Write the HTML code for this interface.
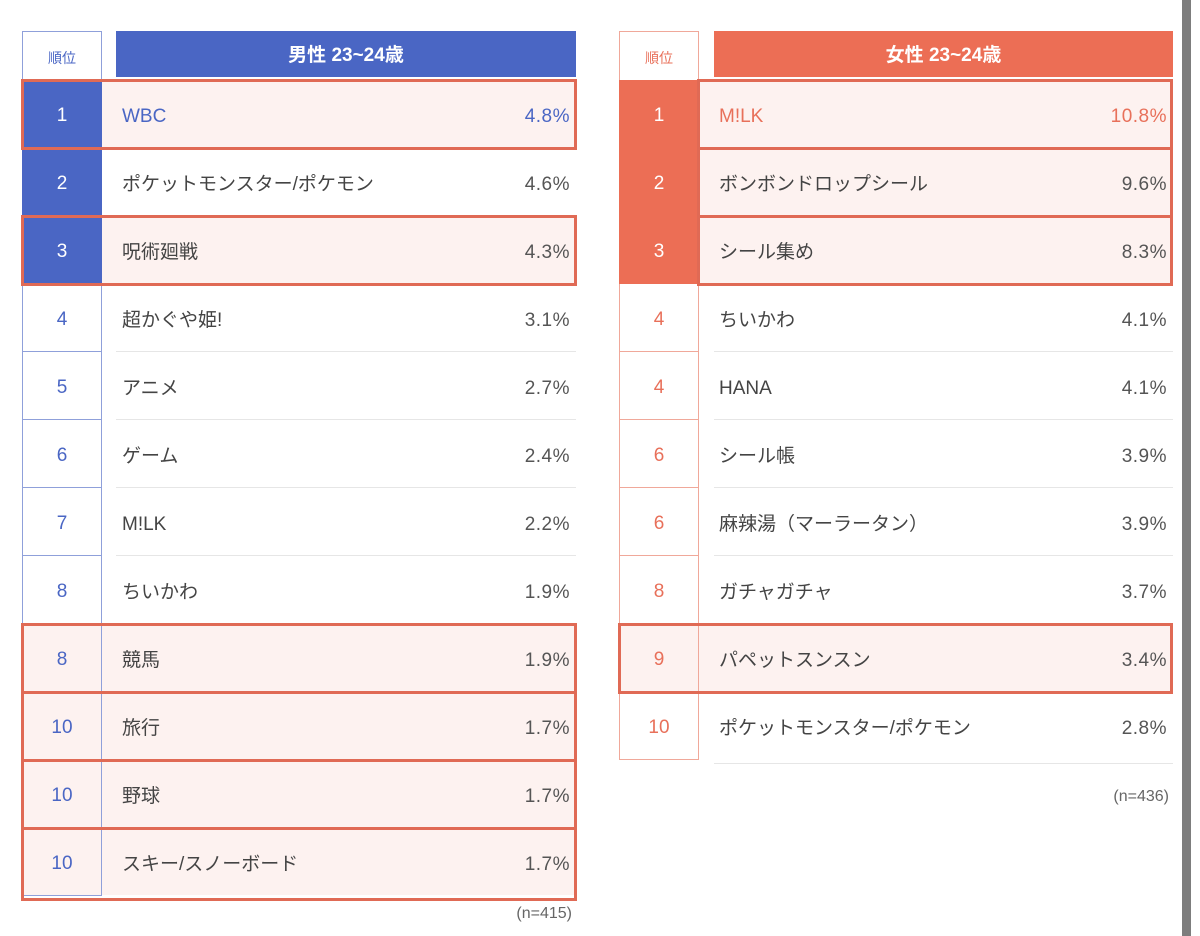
<!DOCTYPE html>
<html><head><meta charset="utf-8"><style>
body{margin:0;width:1200px;height:936px;background:#fff;position:relative;overflow:hidden;font-family:"Liberation Sans","Noto Sans CJK JP",sans-serif;}
div{position:absolute;box-sizing:border-box;}
.rk{width:80px;height:68px;display:flex;align-items:center;justify-content:center;font-size:19px;padding-top:5px;}
.b .rk{border-left:1px solid #8fa0da;border-right:1px solid #8fa0da;border-bottom:1px solid #8fa0da;color:#4a66c4;}
.o .rk{border-left:1px solid #f0a89a;border-right:1px solid #f0a89a;border-bottom:1px solid #f0a89a;color:#e8705a;}
.b .rk.f{background:#4a66c4;color:#fff;border-color:#4a66c4;}
.o .rk.f{background:#ec6e55;color:#fff;border-color:#ec6e55;}
.nm{height:68px;line-height:74px;font-size:19px;color:#444;}
.pc{height:68px;line-height:74px;font-size:19px;color:#555;text-align:right;letter-spacing:0.5px;}
.sep{height:1px;background:#e6e6e6;}
.hl{border:3px solid #e06a55;}
.hf{background:#fdf2f0;}
</style></head><body>
<div style="left:1182px;top:0;width:9px;height:936px;background:#7d7d7d"></div>

<!-- LEFT -->
<div class="b" style="left:0;top:0;width:600px;height:936px">
<div style="left:22px;top:31px;width:80px;height:49px;border:1px solid #8fa0da;border-bottom:none;color:#4a66c4;font-size:14px;text-align:center;line-height:52px">順位</div>
<div style="left:116px;top:31px;width:460px;height:46px;background:#4a66c4;color:#fff;font-size:19px;font-weight:bold;text-align:center;line-height:50px">男性 23~24歳</div>

<div class="hf" style="left:22px;top:81px;width:554px;height:66px"></div>
<div class="hf" style="left:22px;top:217px;width:554px;height:66px"></div>
<div class="hf" style="left:22px;top:625px;width:554px;height:66px"></div>
<div class="hf" style="left:22px;top:693px;width:554px;height:66px"></div>
<div class="hf" style="left:22px;top:761px;width:554px;height:66px"></div>
<div class="hf" style="left:22px;top:829px;width:554px;height:66px"></div>

<div class="rk f" style="left:22px;top:80px">1</div>
<div class="rk f" style="left:22px;top:148px">2</div>
<div class="rk f" style="left:22px;top:216px">3</div>
<div class="rk" style="left:22px;top:284px">4</div>
<div class="rk" style="left:22px;top:352px">5</div>
<div class="rk" style="left:22px;top:420px">6</div>
<div class="rk" style="left:22px;top:488px">7</div>
<div class="rk" style="left:22px;top:556px">8</div>
<div class="rk" style="left:22px;top:624px">8</div>
<div class="rk" style="left:22px;top:692px">10</div>
<div class="rk" style="left:22px;top:760px">10</div>
<div class="rk" style="left:22px;top:828px">10</div>

<div class="sep" style="left:116px;top:215px;width:460px"></div>
<div class="sep" style="left:116px;top:283px;width:460px"></div>
<div class="sep" style="left:116px;top:351px;width:460px"></div>
<div class="sep" style="left:116px;top:419px;width:460px"></div>
<div class="sep" style="left:116px;top:487px;width:460px"></div>
<div class="sep" style="left:116px;top:555px;width:460px"></div>
<div class="sep" style="left:116px;top:623px;width:460px"></div>

<div class="nm" style="left:122px;top:80px;color:#4a66c4">WBC</div><div class="pc" style="left:400px;top:80px;width:170px;color:#4a66c4">4.8%</div>
<div class="nm" style="left:122px;top:148px">ポケットモンスター/ポケモン</div><div class="pc" style="left:400px;top:148px;width:170px">4.6%</div>
<div class="nm" style="left:122px;top:216px">呪術廻戦</div><div class="pc" style="left:400px;top:216px;width:170px">4.3%</div>
<div class="nm" style="left:122px;top:284px">超かぐや姫!</div><div class="pc" style="left:400px;top:284px;width:170px">3.1%</div>
<div class="nm" style="left:122px;top:352px">アニメ</div><div class="pc" style="left:400px;top:352px;width:170px">2.7%</div>
<div class="nm" style="left:122px;top:420px">ゲーム</div><div class="pc" style="left:400px;top:420px;width:170px">2.4%</div>
<div class="nm" style="left:122px;top:488px">M!LK</div><div class="pc" style="left:400px;top:488px;width:170px">2.2%</div>
<div class="nm" style="left:122px;top:556px">ちいかわ</div><div class="pc" style="left:400px;top:556px;width:170px">1.9%</div>
<div class="nm" style="left:122px;top:624px">競馬</div><div class="pc" style="left:400px;top:624px;width:170px">1.9%</div>
<div class="nm" style="left:122px;top:692px">旅行</div><div class="pc" style="left:400px;top:692px;width:170px">1.7%</div>
<div class="nm" style="left:122px;top:760px">野球</div><div class="pc" style="left:400px;top:760px;width:170px">1.7%</div>
<div class="nm" style="left:122px;top:828px">スキー/スノーボード</div><div class="pc" style="left:400px;top:828px;width:170px">1.7%</div>

<div class="hl" style="left:21px;top:79px;width:556px;height:71px"></div>
<div class="hl" style="left:21px;top:215px;width:556px;height:71px"></div>
<div class="hl" style="left:21px;top:623px;width:556px;height:71px"></div>
<div class="hl" style="left:21px;top:691px;width:556px;height:71px"></div>
<div class="hl" style="left:21px;top:759px;width:556px;height:71px"></div>
<div class="hl" style="left:21px;top:827px;width:556px;height:74px"></div>
<div style="left:470px;top:905px;width:102px;text-align:right;font-size:16px;color:#666">(n=415)</div>
</div>

<!-- RIGHT -->
<div class="o" style="left:597px;top:0;width:600px;height:936px">
<div style="left:22px;top:31px;width:80px;height:49px;border:1px solid #f0a89a;border-bottom:none;color:#e8705a;font-size:14px;text-align:center;line-height:52px">順位</div>
<div style="left:117px;top:31px;width:459px;height:46px;background:#ec6e55;color:#fff;font-size:19px;font-weight:bold;text-align:center;line-height:50px">女性 23~24歳</div>

<div class="hf" style="left:22px;top:81px;width:554px;height:66px"></div>
<div class="hf" style="left:22px;top:149px;width:554px;height:66px"></div>
<div class="hf" style="left:22px;top:217px;width:554px;height:66px"></div>
<div class="hf" style="left:22px;top:625px;width:554px;height:66px"></div>

<div class="rk f" style="left:22px;top:80px">1</div>
<div class="rk f" style="left:22px;top:148px">2</div>
<div class="rk f" style="left:22px;top:216px">3</div>
<div class="rk" style="left:22px;top:284px">4</div>
<div class="rk" style="left:22px;top:352px">4</div>
<div class="rk" style="left:22px;top:420px">6</div>
<div class="rk" style="left:22px;top:488px">6</div>
<div class="rk" style="left:22px;top:556px">8</div>
<div class="rk" style="left:22px;top:624px">9</div>
<div class="rk" style="left:22px;top:692px">10</div>

<div class="sep" style="left:117px;top:351px;width:459px"></div>
<div class="sep" style="left:117px;top:419px;width:459px"></div>
<div class="sep" style="left:117px;top:487px;width:459px"></div>
<div class="sep" style="left:117px;top:555px;width:459px"></div>
<div class="sep" style="left:117px;top:623px;width:459px"></div>
<div class="sep" style="left:117px;top:763px;width:459px"></div>

<div class="nm" style="left:122px;top:80px;color:#e8705a">M!LK</div><div class="pc" style="left:400px;top:80px;width:170px;color:#e8705a">10.8%</div>
<div class="nm" style="left:122px;top:148px">ボンボンドロップシール</div><div class="pc" style="left:400px;top:148px;width:170px">9.6%</div>
<div class="nm" style="left:122px;top:216px">シール集め</div><div class="pc" style="left:400px;top:216px;width:170px">8.3%</div>
<div class="nm" style="left:122px;top:284px">ちいかわ</div><div class="pc" style="left:400px;top:284px;width:170px">4.1%</div>
<div class="nm" style="left:122px;top:352px">HANA</div><div class="pc" style="left:400px;top:352px;width:170px">4.1%</div>
<div class="nm" style="left:122px;top:420px">シール帳</div><div class="pc" style="left:400px;top:420px;width:170px">3.9%</div>
<div class="nm" style="left:122px;top:488px">麻辣湯（マーラータン）</div><div class="pc" style="left:400px;top:488px;width:170px">3.9%</div>
<div class="nm" style="left:122px;top:556px">ガチャガチャ</div><div class="pc" style="left:400px;top:556px;width:170px">3.7%</div>
<div class="nm" style="left:122px;top:624px">パペットスンスン</div><div class="pc" style="left:400px;top:624px;width:170px">3.4%</div>
<div class="nm" style="left:122px;top:692px">ポケットモンスター/ポケモン</div><div class="pc" style="left:400px;top:692px;width:170px">2.8%</div>

<div class="hl" style="left:100px;top:79px;width:476px;height:71px"></div>
<div class="hl" style="left:100px;top:147px;width:476px;height:71px"></div>
<div class="hl" style="left:100px;top:215px;width:476px;height:71px"></div>
<div class="hl" style="left:21px;top:623px;width:555px;height:71px"></div>
<div style="left:470px;top:788px;width:102px;text-align:right;font-size:16px;color:#666">(n=436)</div>
</div>
</body></html>
